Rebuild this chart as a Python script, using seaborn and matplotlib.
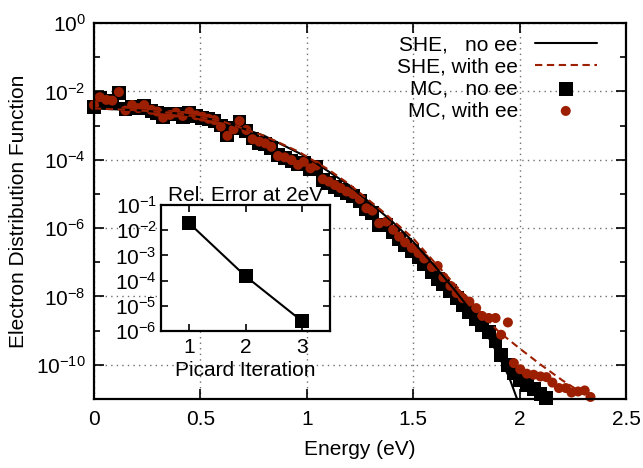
import numpy as np
import pandas as pd
import matplotlib
matplotlib.use("Agg")
import matplotlib.pyplot as plt
import seaborn as sns
from matplotlib.ticker import FixedLocator, FuncFormatter, LogFormatterSciNotation, NullFormatter

# ---------------- data ----------------
# Monte Carlo energy grid (eV)
energy_mc = [0.000, 0.027, 0.058, 0.086, 0.117, 0.148, 0.179, 0.208, 0.236, 0.270,
             0.297, 0.325, 0.357, 0.385, 0.417, 0.448, 0.480, 0.509, 0.538, 0.566,
             0.596, 0.627, 0.656, 0.684, 0.716, 0.745, 0.777, 0.805, 0.833, 0.865,
             0.896, 0.928, 0.959, 0.986, 1.017, 1.044, 1.075, 1.104, 1.132, 1.159,
             1.187, 1.217, 1.249, 1.280, 1.308, 1.340, 1.374, 1.406, 1.434, 1.462,
             1.494, 1.525, 1.552, 1.588, 1.615, 1.642, 1.675, 1.704, 1.733, 1.764,
             1.796, 1.824, 1.855, 1.887, 1.913, 1.945, 1.973, 2.003, 2.034, 2.066,
             2.098, 2.126, 2.154, 2.185, 2.217, 2.244, 2.275, 2.306, 2.333]

# log10 of the distribution function, MC with e-e scattering (79 points)
log10_mc_with_ee = [-2.40, -2.17, -2.25, -2.27, -2.02, -2.56, -2.40, -2.49, -2.40, -2.54,
                    -2.59, -2.77, -2.69, -2.62, -2.72, -2.60, -2.70, -2.74, -2.80, -2.84,
                    -3.03, -3.30, -3.11, -2.87, -3.13, -3.40, -3.47, -3.52, -3.62, -3.89,
                    -3.93, -4.01, -4.15, -4.06, -4.25, -4.17, -4.57, -4.64, -4.74, -4.83,
                    -4.93, -5.00, -5.15, -5.42, -5.49, -5.86, -5.81, -6.05, -6.25, -6.42,
                    -6.58, -6.73, -6.89, -7.14, -7.11, -7.44, -7.69, -7.90, -8.05, -8.15,
                    -8.34, -8.57, -8.63, -8.63, -9.12, -8.76, -9.95, -10.13, -10.26, -10.29,
                    -10.34, -10.36, -10.52, -10.68, -10.68, -10.81, -10.78, -10.75, -10.94]

# log10 of the distribution function, MC without e-e scattering (first 72 grid points)
log10_mc_no_ee = [-2.45, -2.20, -2.28, -2.30, -2.05, -2.52, -2.45, -2.50, -2.43, -2.58,
                  -2.62, -2.74, -2.66, -2.65, -2.75, -2.63, -2.72, -2.78, -2.82, -2.88,
                  -3.00, -3.27, -3.08, -2.90, -3.16, -3.38, -3.50, -3.55, -3.66, -3.86,
                  -3.96, -4.05, -4.12, -4.10, -4.28, -4.22, -4.60, -4.68, -4.79, -4.88,
                  -4.98, -5.06, -5.22, -5.45, -5.56, -5.90, -5.90, -6.12, -6.32, -6.50,
                  -6.66, -6.85, -7.05, -7.28, -7.50, -7.65, -7.85, -8.05, -8.25, -8.45,
                  -8.65, -8.85, -9.05, -9.30, -9.70, -10.00, -10.25, -10.45, -10.60, -10.72,
                  -10.85, -10.97]

# SHE solutions
she_energy_no_ee = [0.0, 0.2, 0.4, 0.6, 0.8, 1.0, 1.2, 1.4, 1.5, 1.6, 1.7, 1.8, 1.85, 1.9, 1.95, 2.0]
log10_she_no_ee = [-2.50, -2.55, -2.65, -2.87, -3.30, -3.92, -4.75, -5.80, -6.40, -7.10,
                   -7.85, -8.65, -9.15, -9.72, -10.35, -11.20]

she_energy_ee = [0.0, 0.2, 0.4, 0.6, 0.8, 0.96, 1.1, 1.2, 1.35, 1.5, 1.6, 1.7, 1.8, 1.9,
                 2.0, 2.1, 2.2, 2.3, 2.36]
log10_she_ee = [-2.50, -2.55, -2.65, -2.87, -3.30, -3.76, -4.28, -4.72, -5.48, -6.30, -7.00,
                -7.68, -8.35, -9.02, -9.52, -10.00, -10.45, -10.85, -11.05]

# inset: relative error at 2 eV vs Picard iteration
picard_iter = [1, 2, 3]
rel_error = [1.9e-2, 1.5e-4, 2.5e-6]

labels = ["SHE,   no ee", "SHE, with ee", "MC,   no ee", "MC, with ee"]
x_ticks = [0, 0.5, 1, 1.5, 2, 2.5]

# ---------------- style ----------------
sns.set_theme(style="ticks")
plt.rcParams['font.family'] = ['Liberation Sans', 'DejaVu Sans']
plt.rcParams['mathtext.fontset'] = 'custom'
plt.rcParams['mathtext.rm'] = 'Liberation Sans'
plt.rcParams['mathtext.it'] = 'Liberation Sans'
plt.rcParams['axes.unicode_minus'] = False
for key in ['text.color', 'axes.labelcolor', 'xtick.color', 'ytick.color',
            'axes.edgecolor', 'xtick.labelcolor', 'ytick.labelcolor']:
    plt.rcParams[key] = 'black'
FS = 15
RED = "#9b1f00"

fig = plt.figure(figsize=(6.43, 4.68), dpi=100)
ax = fig.add_axes([94 / 643, 1 - 399 / 468, (626 - 94) / 643, (399 - 23) / 468])

she0 = pd.DataFrame({"E": she_energy_no_ee, "f": 10.0 ** np.array(log10_she_no_ee)})
she1 = pd.DataFrame({"E": she_energy_ee, "f": 10.0 ** np.array(log10_she_ee)})
mc0 = pd.DataFrame({"E": energy_mc[:len(log10_mc_no_ee)], "f": 10.0 ** np.array(log10_mc_no_ee)})
mc1 = pd.DataFrame({"E": energy_mc, "f": 10.0 ** np.array(log10_mc_with_ee)})

sns.lineplot(data=she0, x="E", y="f", ax=ax, color="black", lw=1.5, label=labels[0])
sns.lineplot(data=she1, x="E", y="f", ax=ax, color=RED, lw=1.5, label=labels[1],
             linestyle=(0, (3.5, 2.2)))
sns.scatterplot(data=mc0, x="E", y="f", ax=ax, marker="s", s=100, color="black",
                edgecolor="none", linewidth=0, label=labels[2], clip_on=False)
sns.scatterplot(data=mc1, x="E", y="f", ax=ax, marker="o", s=52, color=RED,
                edgecolor="none", linewidth=0, label=labels[3], clip_on=False)

ax.set_yscale("log")
ax.set_xlim(0, 2.5)
ax.set_ylim(1e-11, 1)
ax.xaxis.set_major_locator(FixedLocator(x_ticks))
ax.xaxis.set_major_formatter(FuncFormatter(lambda v, p: "%g" % v))
ax.yaxis.set_major_locator(FixedLocator([1e-10, 1e-8, 1e-6, 1e-4, 1e-2, 1]))
ax.yaxis.set_major_formatter(LogFormatterSciNotation())
ax.yaxis.set_minor_locator(FixedLocator([1e-9, 1e-7, 1e-5, 1e-3, 1e-1]))
ax.yaxis.set_minor_formatter(NullFormatter())
ax.tick_params(which="both", direction="in", top=True, right=True, width=1.2,
               labelsize=FS, colors="black")
ax.tick_params(which="major", length=7)
ax.tick_params(which="minor", length=4)
ax.tick_params(axis="x", pad=8)
ax.tick_params(axis="y", pad=6)
for sp in ax.spines.values():
    sp.set_linewidth(1.6)
    sp.set_color("black")
ax.grid(True, which="major", linestyle=(0, (1, 3)), color="#707070", linewidth=1.0)
ax.set_xlabel("Energy (eV)", fontsize=FS, labelpad=8, color="black")
ax.set_ylabel("Electron Distribution Function", fontsize=FS, labelpad=6, color="black")

leg = ax.legend(loc="upper right", bbox_to_anchor=((597 - 94) / 532, 0.968),
                markerfirst=False, frameon=False, fontsize=FS, handlelength=3.0,
                handletextpad=0.8, labelspacing=0.15, borderaxespad=0, borderpad=0)
for t in leg.get_texts():
    t.set_color("black")

# ---------------- inset ----------------
axi = fig.add_axes([161 / 643, 1 - 331 / 468, (330 - 161) / 643, (331 - 205) / 468])
axi.set_facecolor("white")
axi.set_zorder(5)
ins = pd.DataFrame({"it": picard_iter, "err": rel_error})
sns.lineplot(data=ins, x="it", y="err", ax=axi, color="black", lw=1.5, marker="s",
             markersize=10, markeredgewidth=0, clip_on=False)
axi.set_yscale("log")
axi.set_xlim(0.5, 3.5)
axi.set_ylim(1e-6, 1e-1)
axi.xaxis.set_major_locator(FixedLocator(picard_iter))
axi.xaxis.set_major_formatter(FuncFormatter(lambda v, p: "%d" % v))
axi.yaxis.set_major_locator(FixedLocator([1e-6, 1e-5, 1e-4, 1e-3, 1e-2, 1e-1]))
axi.yaxis.set_major_formatter(LogFormatterSciNotation())
axi.yaxis.set_minor_formatter(NullFormatter())
axi.yaxis.set_minor_locator(FixedLocator([]))
axi.tick_params(which="both", direction="in", top=True, right=True, width=1.2,
                labelsize=FS, colors="black", length=5)
axi.tick_params(axis="y", pad=3)
axi.tick_params(axis="x", pad=5)
for sp in axi.spines.values():
    sp.set_linewidth(1.6)
    sp.set_color("black")
axi.set_xlabel("Picard Iteration", fontsize=FS, labelpad=3, color="black")
axi.set_ylabel("")
axi.set_title("Rel. Error at 2eV", fontsize=FS, pad=2, color="black")

fig.savefig("out.png", dpi=100)
